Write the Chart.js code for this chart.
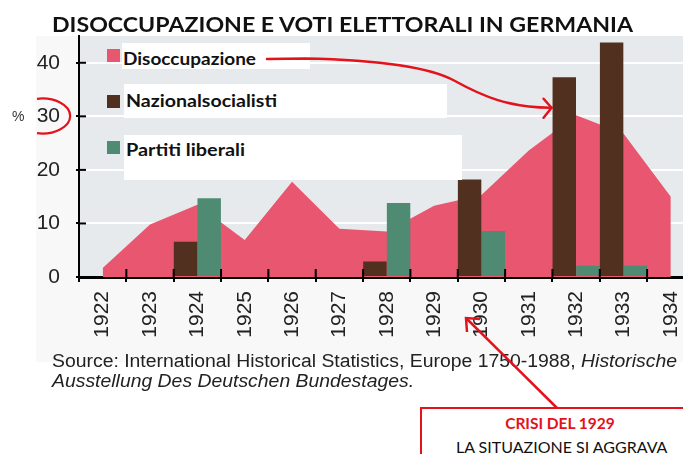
<!DOCTYPE html>
<html>
<head>
<meta charset="utf-8">
<script src="https://cdn.jsdelivr.net/npm/chart.js@4/dist/chart.umd.min.js"></script>
<style>
  html, body { margin: 0; padding: 0; background: #fff; }
  #pagina { position: relative; width: 683px; height: 454px; overflow: hidden; background: #fff; }
  #sfondo { position: absolute; left: 36px; top: 36px; width: 647px; height: 326px; background: #f8f8f8; }
  #grafico { position: absolute; left: 0; top: 0; }
  .testo { position: absolute; white-space: nowrap; line-height: 1; transform-origin: left top; }
  #titolo { left: 52px; top: 11px; font: bold 21px Lato, sans-serif; color: #111; }
  .box { position: absolute; background: #fff; }
  .quadrato { position: absolute; width: 13px; height: 13px; }
  .voce { font: bold 16.5px Lato, sans-serif; color: #111; }
  #perc { left: 12px; top: 108px; font: 14px "Liberation Sans", Arial, sans-serif; color: #333; }
  .fonte { font: 18px "Liberation Sans", Arial, sans-serif; color: #222; }
  #crisi { position: absolute; left: 420px; top: 407px; width: 274px; height: 80px; border: 2px solid #e3121b; background: #fff; }
  .centro { position: absolute; white-space: nowrap; line-height: 1; text-align: center; transform-origin: center top; }
  #sovra { position: absolute; left: 0; top: 0; pointer-events: none; }
</style>
</head>
<body>
<div id="pagina">
  <div id="sfondo"></div>
  <canvas id="grafico" width="710" height="454"></canvas>
  <div id="titolo" class="testo">DISOCCUPAZIONE E VOTI ELETTORALI IN GERMANIA</div>
  <div id="perc" class="testo">%</div>
  <div id="legenda"></div>
  <div id="fonte1" class="testo fonte" style="left:52px;top:351px">Source: International Historical Statistics, Europe 1750-1988, <i>Historische</i></div>
  <div id="fonte2" class="testo fonte" style="left:52px;top:371px"><i>Ausstellung Des Deutschen Bundestages.</i></div>
  <div id="crisi"></div>
  <div id="crisi1" class="centro" style="left:460px;top:414px;width:200px;font:bold 15.5px Lato, sans-serif;color:#e3121b">CRISI DEL 1929</div>
  <div id="crisi2" class="centro" style="left:456px;top:437px;width:200px;font:16px Lato, sans-serif;color:#111">LA SITUAZIONE SI AGGRAVA</div>
  <svg id="sovra" width="683" height="454"></svg>
</div>

<script>
// dati
const anni = ["1922","1923","1924","1925","1926","1927","1928","1929","1930","1931","1932","1933","1934"];
const disoccupazione = [1.7, 9.8, 13.5, 6.9, 17.8, 9.0, 8.5, 13.3, 15.3, 23.6, 30.2, 26.8, 15.0];
const nazionalsocialisti = [null, null, 6.6, null, null, null, 2.9, null, 18.2, null, 37.3, 43.8, null];
const liberali = [null, null, 14.7, null, null, null, 13.8, null, 8.6, null, 2.1, 2.1, null];
const tickY = [0, 10, 20, 30, 40];
const maxY = 45;

const ROSA = "#e9566f";
const MARRONE = "#51301f";
const VERDE = "#4f8b73";

// sfondo grigio dell'area del grafico
const sfondoArea = {
  id: "sfondoArea",
  beforeDraw(chart) {
    const { ctx, chartArea: a } = chart;
    ctx.save();
    ctx.fillStyle = "#e6eaed";
    ctx.fillRect(a.left, a.top, a.right - a.left, a.bottom - a.top);
    ctx.restore();
  }
};

// tacche che attraversano gli assi
const tacche = {
  id: "tacche",
  afterDraw(chart) {
    const { ctx, chartArea: a, scales } = chart;
    ctx.save();
    ctx.strokeStyle = "#000";
    ctx.lineWidth = 2;
    tickY.forEach(v => {
      const y = scales.y.getPixelForValue(v);
      ctx.beginPath();
      ctx.moveTo(a.left, y);
      ctx.lineTo(a.left + 7, y);
      ctx.stroke();
    });
    const passo = scales.x.getPixelForValue(1) - scales.x.getPixelForValue(0);
    for (let i = 1; i <= anni.length; i++) {
      const x = scales.x.getPixelForValue(i) - passo / 2;
      ctx.beginPath();
      ctx.moveTo(x, a.bottom - 8);
      ctx.lineTo(x, a.bottom);
      ctx.stroke();
    }
    ctx.restore();
  }
};

const grafico = new Chart(document.getElementById("grafico"), {
  type: "bar",
  data: {
    labels: anni,
    datasets: [
      {
        type: "line",
        label: "Disoccupazione",
        data: disoccupazione,
        backgroundColor: ROSA,
        borderColor: "transparent",
        borderWidth: 0,
        pointRadius: 0,
        fill: "origin",
        tension: 0,
        order: 2
      },
      {
        label: "Nazionalsocialisti",
        data: nazionalsocialisti,
        backgroundColor: MARRONE,
        categoryPercentage: 1,
        barPercentage: 0.99,
        order: 1
      },
      {
        label: "Partiti liberali",
        data: liberali,
        backgroundColor: VERDE,
        categoryPercentage: 1,
        barPercentage: 0.99,
        order: 1
      }
    ]
  },
  options: {
    responsive: false,
    maintainAspectRatio: false,
    animation: false,
    devicePixelRatio: 1,
    layout: { padding: { left: 0, top: 36, right: 0, bottom: 107 } },
    plugins: { legend: { display: false }, tooltip: { enabled: false } },
    scales: {
      x: {
        offset: true,
        grid: { offset: true, drawOnChartArea: false, drawTicks: true, tickLength: 5, tickColor: "#000", lineWidth: 2 },
        border: { color: "#000", width: 3 },
        ticks: {
          minRotation: 90, maxRotation: 90, padding: 9,
          color: "#222",
          font: { family: "Liberation Sans", size: 21 }
        },
        afterFit(s) { s.height = 70; }
      },
      y: {
        min: 0,
        max: maxY,
        grid: { color: "#ffffff", lineWidth: 2, tickColor: "#000", tickLength: 3 },
        border: { color: "#000", width: 2 },
        ticks: {
          padding: 16,
          color: "#222",
          font: { family: "Liberation Sans", size: 21 }
        },
        afterBuildTicks(s) { s.ticks = tickY.map(v => ({ value: v })); },
        afterFit(s) { s.width = 79; }
      }
    }
  },
  plugins: [sfondoArea, tacche]
});

// porta il bordo destro dell'area a 695 px (il grafico originale è tagliato)
const scarto = 695 - grafico.chartArea.right;
if (Math.abs(scarto) > 0.5) grafico.resize(Math.round(710 + scarto), 454);

// legenda con i riquadri bianchi
const legenda = document.getElementById("legenda");
const posLegenda = [
  { box: [122, 43, 188, 26], q: [107, 49], t: [123, 49], w: 133 },
  { box: [124, 84, 323, 34], q: [107, 95], t: [126, 91], w: 151 },
  { box: [124, 135, 338, 45], q: [107, 141], t: [126, 140], w: 119 }
];
grafico.data.datasets.forEach((ds, i) => {
  const p = posLegenda[i];
  const b = document.createElement("div");
  b.className = "box";
  b.style.cssText = `left:${p.box[0]}px;top:${p.box[1]}px;width:${p.box[2]}px;height:${p.box[3]}px`;
  legenda.appendChild(b);
  const q = document.createElement("div");
  q.className = "quadrato";
  q.style.cssText = `left:${p.q[0]}px;top:${p.q[1]}px;background:${ds.backgroundColor}`;
  legenda.appendChild(q);
  const t = document.createElement("div");
  t.className = "testo voce";
  t.style.left = p.t[0] + "px";
  t.style.top = p.t[1] + "px";
  t.textContent = ds.label;
  t.dataset.w = p.w;
  legenda.appendChild(t);
});

function adatta(el, w) {
  const r = w / el.getBoundingClientRect().width;
  el.style.transform = `scaleX(${r})`;
  return r;
}
adatta(document.getElementById("titolo"), 581);
document.querySelectorAll(".voce").forEach(el => adatta(el, +el.dataset.w));
const rf = adatta(document.getElementById("fonte1"), 625);
document.getElementById("fonte2").style.transform = `scaleX(${rf})`;

// frecce e cerchio rossi
const barra = grafico.getDatasetMeta(1).data[10];
const px = barra.x - barra.width / 2 - 1;
const py = grafico.scales.y.getPixelForValue(31.6);
const rosso = "#e3121b";
document.getElementById("sovra").innerHTML = `
  <path d="M 37 98.8 A 28 17.5 0 1 1 37 133.2" fill="none" stroke="${rosso}" stroke-width="2.2"/>
  <path d="M 267 59 L 305 58.5 C 380 60, 430 67, 455 81 C 482 96, 510 108, ${px} ${py}" fill="none" stroke="${rosso}" stroke-width="2.5" stroke-linecap="round"/>
  <path d="M ${px - 8} ${py - 9} L ${px} ${py} L ${px - 8} ${py + 10}" fill="none" stroke="${rosso}" stroke-width="2.5" stroke-linecap="round" stroke-linejoin="round"/>
  <line x1="557" y1="408" x2="467" y2="319" stroke="${rosso}" stroke-width="2.5"/>
  <path d="M 467 332 L 466 318 L 480 319" fill="none" stroke="${rosso}" stroke-width="2.5" stroke-linejoin="miter"/>
`;
</script>
</body>
</html>
